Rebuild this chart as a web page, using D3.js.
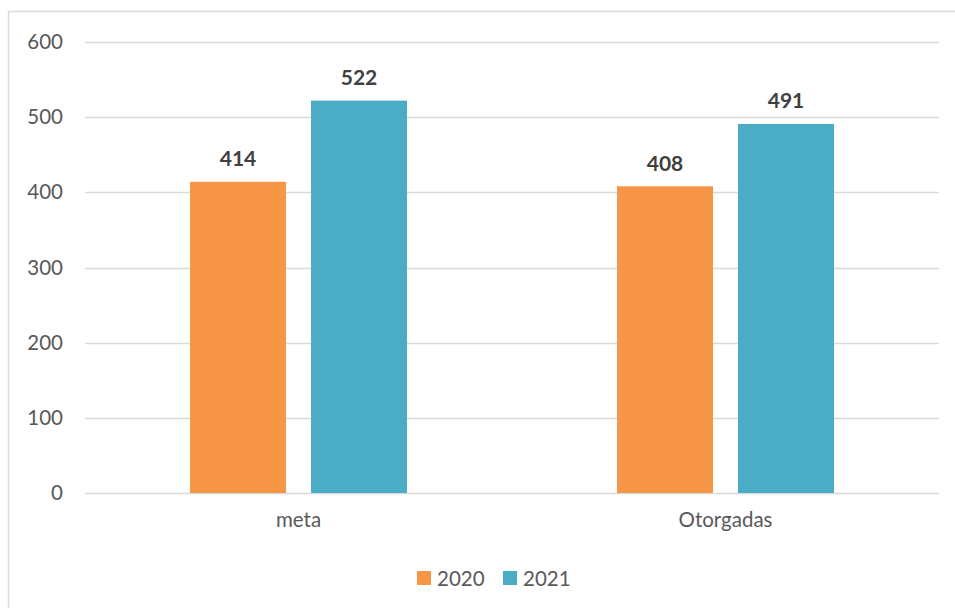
<!DOCTYPE html>
<html><head><meta charset="utf-8">
<script src="https://cdn.jsdelivr.net/npm/d3@7"></script>
<style>body{margin:0;background:#fff}svg{display:block}</style>
</head><body>
<script>
const categories = ["meta", "Otorgadas"];
const seriesNames = ["2020", "2021"];
const values2020 = [414, 408];
const values2021 = [522, 491];
const yTicks = [0, 100, 200, 300, 400, 500, 600];
const colors = ["#F79646", "#4BACC6"];

(function () {
const W = 955, H = 608;
const svg = d3.select("body").append("svg").attr("width", W).attr("height", H);
svg.append("rect").attr("x", 8.5).attr("y", 11.5).attr("width", W).attr("height", H)
  .attr("fill", "#fff").attr("stroke", "#d9d9d9").attr("stroke-width", 1.5);

const pLeft = 85, pRight = 939, pTop = 42, pBottom = 493;
const y = d3.scaleLinear().domain([0, 600]).range([pBottom, pTop]);
const x0 = d3.scaleBand().domain(categories).range([pLeft, pRight]).paddingInner(0.4918).paddingOuter(0.2459);
const x1 = d3.scaleBand().domain(seriesNames).range([0, x0.bandwidth()]).paddingInner(25/121).paddingOuter(0);

const font = "Lato, 'Open Sans', sans-serif";
const fs = 20.5;
// grid
svg.append("g").selectAll("line").data(yTicks).join("line")
  .attr("x1", pLeft).attr("x2", pRight).attr("y1", d => Math.round(y(d)) + 0.5).attr("y2", d => Math.round(y(d)) + 0.5)
  .attr("stroke", "#d9d9d9").attr("stroke-width", 1.5);
// y axis labels
const yAxis = d3.axisLeft(y).tickValues(yTicks).tickSize(0).tickPadding(0);
const ga = svg.append("g").attr("transform", `translate(${pLeft - 22},0)`).call(yAxis);
ga.select(".domain").remove();
ga.selectAll("text").attr("font-family", font).attr("font-size", fs).attr("fill", "#595959");

const data = categories.map((c, i) => ({cat: c, vals: [values2020[i], values2021[i]]}));
const groups = svg.append("g").selectAll("g").data(data).join("g")
  .attr("transform", d => `translate(${x0(d.cat)},0)`);
groups.selectAll("rect").data(d => d.vals.map((v, j) => ({s: seriesNames[j], v, j}))).join("rect")
  .attr("x", d => x1(d.s)).attr("width", x1.bandwidth())
  .attr("y", d => y(d.v)).attr("height", d => y(0) - y(d.v))
  .attr("fill", d => colors[d.j]);
groups.selectAll("text.v").data(d => d.vals.map((v, j) => ({s: seriesNames[j], v, j}))).join("text")
  .attr("class", "v")
  .attr("x", d => x1(d.s) + x1.bandwidth() / 2).attr("y", d => y(d.v) - 24)
  .attr("text-anchor", "middle").attr("dominant-baseline", "central")
  .attr("font-family", font).attr("font-size", 21).attr("font-weight", "bold").attr("fill", "#404040")
  .text(d => d.v);
// category labels
const xAxis = d3.axisBottom(x0).tickSize(0).tickPadding(0);
const gx = svg.append("g").attr("transform", `translate(0,${pBottom + 19})`).call(xAxis);
gx.select(".domain").remove();
gx.selectAll("text").attr("font-family", font).attr("font-size", fs).attr("fill", "#595959");

// legend
const legend = svg.append("g");
const lx = [417, 503];
seriesNames.forEach((s, i) => {
  legend.append("rect").attr("x", lx[i]).attr("y", 571).attr("width", 14).attr("height", 14).attr("fill", colors[i]);
  legend.append("text").attr("x", lx[i] + 20).attr("y", 578).attr("dominant-baseline", "central")
    .attr("font-family", font).attr("font-size", fs).attr("fill", "#595959").text(s);
});
})();
</script>
</body></html>
